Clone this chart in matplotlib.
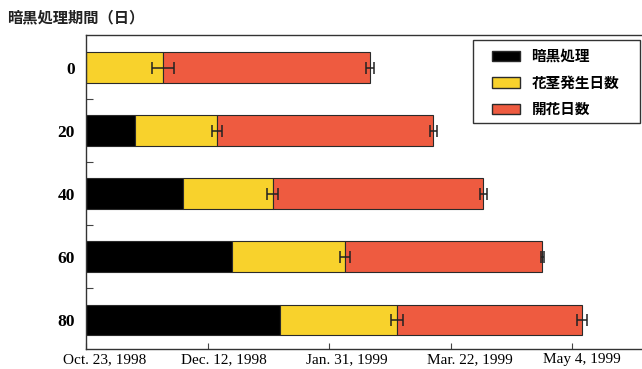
import matplotlib
matplotlib.use("Agg")
import matplotlib.pyplot as plt
from matplotlib.patches import Patch, Rectangle
from matplotlib.ticker import FixedLocator
from matplotlib.transforms import ScaledTranslation

# Data (days from Oct. 23, 1998)
categories = ["0", "20", "40", "60", "80"]
dark_days = [0, 20, 40, 60, 80]
stalk_end = [31.7, 53.9, 76.8, 106.6, 128.1]     # end of flower-stalk emergence segment
flower_end = [116.9, 142.9, 163.5, 187.8, 204.2]  # end of flowering segment
stalk_err = [4.6, 2.0, 2.3, 2.2, 2.5]
flower_err = [1.8, 1.5, 1.5, 0.6, 2.0]
tick_days = [0, 50, 100, 150, 200]
tick_labels = ["Oct. 23, 1998", "Dec. 12, 1998", "Jan. 31, 1999", "Mar. 22, 1999", "May 4, 1999"]
legend_labels = ["暗黒処理", "花茎発生日数", "開花日数"]
title = "暗黒処理期間（日）"

c_dark = "#000000"
c_yel = "#F8D22C"
c_red = "#EE5B40"
edge = "#2a2a2a"
cjk = ["Noto Sans CJK JP", "DejaVu Sans"]

fig = plt.figure(figsize=(6.42, 3.69), dpi=100)
ax = fig.add_axes([86/642, 1-349/369, 1-86/642, (349-35)/369])

y = list(range(len(categories)))
h = 0.49
yel_w = [s - d for s, d in zip(stalk_end, dark_days)]
red_w = [f - s for f, s in zip(flower_end, stalk_end)]

ax.barh(y, dark_days, height=h, color=c_dark, edgecolor=edge, linewidth=0.8)
ax.barh(y, yel_w, left=dark_days, height=h, color=c_yel, edgecolor=edge, linewidth=0.8)
ax.barh(y, red_w, left=stalk_end, height=h, color=c_red, edgecolor=edge, linewidth=0.8)

ax.errorbar(stalk_end, y, xerr=stalk_err, fmt="none", ecolor="#222", elinewidth=1.1,
            capsize=4, capthick=1.1)
ax.errorbar(flower_end, y, xerr=flower_err, fmt="none", ecolor="#222", elinewidth=1.1,
            capsize=4, capthick=1.1)

ax.set_xlim(0, (642-86)/2.43)
ax.set_ylim(len(categories) - 1 + 0.46, -0.52)

ax.set_xticks(tick_days)
ax.set_xticklabels(tick_labels, fontfamily="Liberation Serif", fontsize=11)
ax.set_yticks(y)
ax.set_yticklabels(categories, fontfamily="Liberation Serif", fontsize=12.5, fontweight="bold")
ax.yaxis.set_minor_locator(FixedLocator([0.5, 1.5, 2.5, 3.5]))
ax.tick_params(axis="y", which="major", length=0, pad=8)
ax.tick_params(axis="y", which="minor", direction="in", length=5, width=0.8, color="#444")
ax.tick_params(axis="x", which="major", direction="in", length=4, width=0.8, color="#444", pad=3)

# labels in the original sit slightly right of their ticks
label_shift_px = [19, 16, 18, 19, 10]
for lab, dx in zip(ax.get_xticklabels(), label_shift_px):
    lab.set_transform(lab.get_transform() + ScaledTranslation(dx / 100, 0, fig.dpi_scale_trans))

for s in ["left", "bottom", "top"]:
    ax.spines[s].set_linewidth(1.0)
    ax.spines[s].set_color("#333")
ax.spines["right"].set_visible(False)

# legend frame
fig.patches.append(Rectangle((473/642, 1-123/369), 167/642, 83/369, transform=fig.transFigure,
                             facecolor="white", edgecolor="#333", linewidth=1.0, zorder=5))
handles = [Patch(facecolor=c, edgecolor=edge, linewidth=1.0) for c in (c_dark, c_yel, c_red)]
leg = fig.legend(handles, legend_labels, loc="upper left", bbox_to_anchor=(492/642, 1-48/369),
                 prop={"family": cjk, "weight": "bold", "size": 10.5},
                 frameon=False, handlelength=1.9, handleheight=0.75, labelspacing=0.72,
                 borderpad=0, borderaxespad=0, handletextpad=0.8)
leg.set_zorder(6)

fig.text(7/642, 1-17/369, title, fontfamily=cjk,
         fontweight="bold", fontsize=11, va="center", ha="left", color="#222")

fig.savefig("out.png", dpi=100)
